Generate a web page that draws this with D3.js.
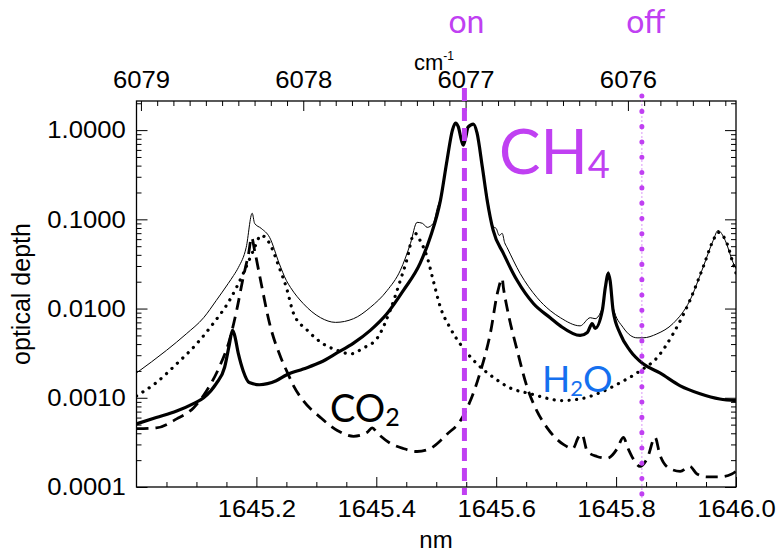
<!DOCTYPE html>
<html>
<head>
<meta charset="utf-8">
<script src="https://cdn.jsdelivr.net/npm/d3@7/dist/d3.min.js"></script>
<style>
  html, body { margin: 0; padding: 0; background: #fff; }
  svg { display: block; }
  .tick text { font-family: "Liberation Sans", Arial, Helvetica, sans-serif; font-size: 24px; fill: #000; }
  .axis path.domain { display: none; }
  .tick line { stroke: #000; stroke-width: 1; }
</style>
</head>
<body>
<svg id="chart" width="776" height="553"></svg>
<script>
// ---- Spectral data (optical depth vs. wavelength in nm) ----
const ch4Nm = [1645.000, 1645.033, 1645.067, 1645.095, 1645.112, 1645.133, 1645.147, 1645.155, 1645.160, 1645.163,
  1645.170, 1645.178, 1645.188, 1645.205, 1645.233, 1645.250, 1645.278, 1645.307, 1645.335, 1645.362,
  1645.390, 1645.418, 1645.445, 1645.473, 1645.490, 1645.507, 1645.518, 1645.527, 1645.532, 1645.537,
  1645.541, 1645.545, 1645.549, 1645.553, 1645.562, 1645.568, 1645.577, 1645.585, 1645.595, 1645.612, 1645.635, 1645.662,
  1645.690, 1645.707, 1645.740, 1645.752, 1645.760, 1645.765, 1645.777, 1645.782, 1645.787, 1645.790,
  1645.795, 1645.807, 1645.823, 1645.845, 1645.873, 1645.907, 1645.940, 1645.973, 1646.000];
const ch4Tau = [0.00051, 0.00060, 0.00071, 0.00086, 0.00100, 0.00144, 0.0022, 0.0040, 0.0057, 0.0052,
  0.0031, 0.0020, 0.00148, 0.00140, 0.00155, 0.0018, 0.0021, 0.0025, 0.0032, 0.0041,
  0.0057, 0.0088, 0.0159, 0.0321, 0.063, 0.163, 0.46, 1.0, 1.20, 1.08,
  0.82, 0.68, 0.82, 1.08, 1.17, 0.93, 0.38, 0.163, 0.075, 0.0415, 0.0206, 0.0114,
  0.0079, 0.0064, 0.0050, 0.0054, 0.0068, 0.0060, 0.0095, 0.0172, 0.0247, 0.0206,
  0.0095, 0.0052, 0.0034, 0.0024, 0.0019, 0.00136, 0.00111, 0.00097, 0.00093];

const h2oNm = [1645.000, 1645.033, 1645.067, 1645.100, 1645.128, 1645.155, 1645.178, 1645.195, 1645.208, 1645.222,
  1645.238, 1645.250, 1645.262, 1645.285, 1645.312, 1645.335, 1645.357, 1645.378, 1645.402, 1645.423,
  1645.440, 1645.452, 1645.460, 1645.465, 1645.473, 1645.485, 1645.495, 1645.507, 1645.523, 1645.545,
  1645.568, 1645.595, 1645.623, 1645.657, 1645.690, 1645.707, 1645.740, 1645.773, 1645.807, 1645.840,
  1645.868, 1645.895, 1645.923, 1645.945, 1645.962, 1645.970, 1645.985, 1645.995, 1646.000];
const h2oTau = [0.00105, 0.00148, 0.0024, 0.0040, 0.0068, 0.0123, 0.0247, 0.0448, 0.0661, 0.0537,
  0.0289, 0.0172, 0.0088, 0.0057, 0.0040, 0.0034, 0.0031, 0.0036, 0.0047, 0.0095,
  0.0206, 0.0374, 0.0628, 0.0696, 0.0581, 0.0374, 0.0206, 0.0103, 0.0061, 0.0036,
  0.0024, 0.0017, 0.00129, 0.00111, 0.00097, 0.00093, 0.00097, 0.00114, 0.00148, 0.0020,
  0.0028, 0.0052, 0.0123, 0.0289, 0.0581, 0.0714, 0.0537, 0.0321, 0.025];

const co2Nm = [1645.000, 1645.033, 1645.067, 1645.095, 1645.117, 1645.138, 1645.155, 1645.167, 1645.178, 1645.187,
  1645.192, 1645.197, 1645.208, 1645.222, 1645.240, 1645.252, 1645.262, 1645.278, 1645.307, 1645.335,
  1645.362, 1645.385, 1645.393, 1645.402, 1645.423, 1645.445, 1645.468, 1645.490, 1645.507, 1645.518,
  1645.540, 1645.557, 1645.573, 1645.590, 1645.603, 1645.610, 1645.612, 1645.618, 1645.635, 1645.652,
  1645.668, 1645.685, 1645.712, 1645.728, 1645.737, 1645.743, 1645.752, 1645.768, 1645.785, 1645.802,
  1645.812, 1645.820, 1645.828, 1645.840, 1645.852, 1645.865, 1645.873, 1645.890, 1645.907, 1645.923,
  1645.935, 1645.952, 1645.973, 1645.993, 1646.000];
const co2Tau = [0.00045, 0.00046, 0.00058, 0.00077, 0.0012, 0.0022, 0.0044, 0.0095, 0.0223, 0.0415,
  0.0628, 0.0448, 0.0191, 0.0068, 0.0029, 0.0019, 0.00136, 0.00093, 0.00060, 0.00043,
  0.00037, 0.00041, 0.00046, 0.00040, 0.00031, 0.00027, 0.00025, 0.00027, 0.00033, 0.00039,
  0.00055, 0.00093, 0.0019, 0.0052, 0.0159, 0.0217, 0.0172, 0.0103, 0.0034, 0.00129,
  0.00071, 0.00046, 0.00030, 0.00027, 0.00036, 0.00039, 0.00025, 0.00022, 0.00021, 0.00027,
  0.00036, 0.00027, 0.00021, 0.00017, 0.00021, 0.00036, 0.00023, 0.00016, 0.00015, 0.00017,
  0.00014, 0.00013, 0.00013, 0.00014, 0.00015];

// total optical depth of the three absorbers
const totalNm = [1645.000, 1645.050, 1645.083, 1645.112, 1645.133, 1645.153, 1645.162, 1645.170, 1645.183, 1645.193,
  1645.197, 1645.208, 1645.222, 1645.238, 1645.250, 1645.257, 1645.278, 1645.307, 1645.332, 1645.362,
  1645.390, 1645.418, 1645.440, 1645.457, 1645.468, 1645.477, 1645.485, 1645.495, 1645.502, 1645.507,
  1645.518, 1645.527, 1645.532, 1645.537, 1645.541, 1645.545, 1645.549, 1645.553, 1645.562, 1645.568, 1645.577, 1645.585,
  1645.595, 1645.600, 1645.605, 1645.610, 1645.614, 1645.618, 1645.640, 1645.668, 1645.690, 1645.707,
  1645.740, 1645.757, 1645.765, 1645.777, 1645.787, 1645.795, 1645.812, 1645.835, 1645.845, 1645.868,
  1645.895, 1645.923, 1645.945, 1645.962, 1645.970, 1645.982, 1645.995, 1646.000];
const totalTau = [0.0019, 0.0034, 0.0052, 0.0079, 0.0123, 0.0191, 0.0235, 0.0289, 0.0485, 0.117,
  0.0902, 0.0792, 0.0628, 0.0321, 0.0206, 0.0172, 0.0114, 0.0079, 0.0070, 0.0077,
  0.0103, 0.0159, 0.0267, 0.0537, 0.0925, 0.0902, 0.0813, 0.0902, 0.136, 0.173,
  0.47, 1.0, 1.20, 1.08, 0.82, 0.69, 0.82, 1.08, 1.17, 0.93, 0.39, 0.177,
  0.083, 0.079, 0.066, 0.0696, 0.055, 0.0485, 0.0247, 0.0133, 0.0095, 0.0079,
  0.0064, 0.0079, 0.0077, 0.0103, 0.026, 0.0103, 0.0061, 0.0047, 0.0047, 0.0052,
  0.0068, 0.0123, 0.0289, 0.0581, 0.075, 0.0581, 0.0329, 0.028];

// axis ticks
const nmTicks = [1645.2, 1645.4, 1645.6, 1645.8, 1646.0];
const wavenumberTicks = [6079, 6078, 6077, 6076];
const depthTicks = [0.0001, 0.001, 0.01, 0.1, 1];

// laser on/off wavelengths (nm)
const onNm = 1645.547;
const offNm = 1645.843;

// ---- Layout ----
const svg = d3.select("#chart");
const plot = { left: 136.5, right: 736, top: 101, bottom: 487 };
const purple = "#c040f2";
const blue = "#1570ef";

const x = d3.scaleLinear().domain([1645.0, 1646.0]).range([plot.left, plot.right]);
const y = d3.scaleLog().domain([1e-4, 2.12]).range([plot.bottom, plot.top]);
// wavenumber axis (cm^-1 = 1e7 / nm)
const xw = d3.scaleLinear().domain([1e7 / 1645.0, 1e7 / 1646.0]).range([plot.left, plot.right]);

svg.append("defs").append("clipPath").attr("id", "clip")
  .append("rect").attr("x", plot.left).attr("y", plot.top)
  .attr("width", plot.right - plot.left).attr("height", plot.bottom - plot.top);

// minor tick values
const nmMinor = d3.range(1645.05, 1646.0, 0.05).filter(v => Math.abs(v * 5 - Math.round(v * 5)) > 1e-6);
const wnMinor = d3.range(60754, 60791).map(v => v / 10).filter(v => v % 1 !== 0 && xw(v) > plot.left && xw(v) < plot.right);
const depthMinor = [];
depthTicks.slice(0, -1).forEach(d => { for (let k = 2; k <= 9; k++) depthMinor.push(d * k); });
for (let k = 2; k <= 9; k++) if (k <= 2.12) depthMinor.push(k);

function stretch(sel) { sel.selectAll(".tick text").attr("transform", "scale(1.07,1)"); }

// bottom axis (nm)
svg.append("g").attr("class", "axis").attr("transform", `translate(0,${plot.bottom})`)
  .call(d3.axisBottom(x).tickValues(nmMinor).tickSize(-5).tickFormat(""));
svg.append("g").attr("class", "axis").attr("transform", `translate(0,${plot.bottom})`)
  .call(d3.axisBottom(x).tickValues(nmTicks).tickSize(-10).tickPadding(13).tickFormat(d3.format(".1f")))
  .call(stretch);

// top axis (cm-1)
svg.append("g").attr("class", "axis").attr("transform", `translate(0,${plot.top})`)
  .call(d3.axisTop(xw).tickValues(wnMinor).tickSize(-5).tickFormat(""));
svg.append("g").attr("class", "axis").attr("transform", `translate(0,${plot.top})`)
  .call(d3.axisTop(xw).tickValues(wavenumberTicks).tickSize(-10).tickPadding(13).tickFormat(d3.format("d")))
  .call(stretch);

// left axis
svg.append("g").attr("class", "axis").attr("transform", `translate(${plot.left},0)`)
  .call(d3.axisLeft(y).tickValues(depthMinor).tickSize(-5).tickFormat(""));
svg.append("g").attr("class", "axis").attr("transform", `translate(${plot.left},0)`)
  .call(d3.axisLeft(y).tickValues(depthTicks).tickSize(-11).tickPadding(10).tickFormat(d3.format(".4f")))
  .call(stretch);

// right axis
svg.append("g").attr("class", "axis").attr("transform", `translate(${plot.right},0)`)
  .call(d3.axisRight(y).tickValues(depthMinor).tickSize(-5).tickFormat(""));
svg.append("g").attr("class", "axis").attr("transform", `translate(${plot.right},0)`)
  .call(d3.axisRight(y).tickValues(depthTicks).tickSize(-11).tickFormat(""));

// frame
svg.append("rect").attr("x", plot.left).attr("y", plot.top)
  .attr("width", plot.right - plot.left).attr("height", plot.bottom - plot.top)
  .attr("fill", "none").attr("stroke", "#000").attr("stroke-width", 1.3);

// ---- Curves ----
const line = d3.line().x(d => x(d[0])).y(d => y(d[1])).curve(d3.curveMonotoneX);
const zip = (a, b) => a.map((v, i) => [v, b[i]]);
const curves = svg.append("g").attr("clip-path", "url(#clip)").attr("fill", "none");

curves.append("path").datum(zip(totalNm, totalTau)).attr("d", line)
  .attr("stroke", "#000").attr("stroke-width", 1);
curves.append("path").datum(zip(h2oNm, h2oTau)).attr("d", line)
  .attr("stroke", "#000").attr("stroke-width", 3.2).attr("stroke-linecap", "round")
  .attr("stroke-dasharray", "0.1 7.4");
curves.append("path").datum(zip(co2Nm, co2Tau)).attr("d", line)
  .attr("stroke", "#000").attr("stroke-width", 2.8).attr("stroke-dasharray", "12 7");
curves.append("path").datum(zip(ch4Nm, ch4Tau)).attr("d", line)
  .attr("stroke", "#000").attr("stroke-width", 3.2).attr("stroke-linejoin", "round");

// ---- on / off markers ----
svg.append("line").attr("x1", x(onNm)).attr("x2", x(onNm))
  .attr("y1", plot.top - 13).attr("y2", plot.bottom + 8)
  .attr("stroke", purple).attr("stroke-width", 5).attr("stroke-dasharray", "13 7");

svg.append("line").attr("x1", x(offNm)).attr("x2", x(offNm))
  .attr("y1", plot.top - 5).attr("y2", plot.bottom + 16)
  .attr("stroke", purple).attr("stroke-opacity", 0.55).attr("stroke-width", 1).attr("stroke-dasharray", "2 2");
svg.append("line").attr("x1", x(offNm)).attr("x2", x(offNm))
  .attr("y1", plot.top - 5).attr("y2", plot.bottom + 16)
  .attr("stroke", purple).attr("stroke-width", 5).attr("stroke-linecap", "round")
  .attr("stroke-dasharray", "0.1 15.2");

const labelFont = "Lato, 'Open Sans', sans-serif";
svg.append("text").attr("x", x(onNm) + 2).attr("y", 33).attr("text-anchor", "middle")
  .attr("font-family", labelFont).attr("font-size", 32).attr("fill", purple).text("on");
svg.append("text").attr("x", x(offNm) + 4).attr("y", 33).attr("text-anchor", "middle")
  .attr("font-family", labelFont).attr("font-size", 32).attr("fill", purple).text("off");

// axis titles
const axisFont = "'Liberation Sans', Arial, Helvetica, sans-serif";
const cm = svg.append("text").attr("x", 414).attr("y", 70)
  .attr("font-family", axisFont).attr("font-size", 22).attr("fill", "#000");
cm.append("tspan").text("cm");
cm.append("tspan").attr("font-size", 12).attr("dy", -10).text("-1");

svg.append("text").attr("x", 436).attr("y", 548).attr("text-anchor", "middle")
  .attr("font-family", axisFont).attr("font-size", 24).attr("fill", "#000").text("nm");

svg.append("text").attr("transform", "translate(30,294) rotate(-90)").attr("text-anchor", "middle")
  .attr("font-family", axisFont).attr("font-size", 25).attr("fill", "#000").text("optical depth");

// species labels: text, subscript, optional trailing text
function species(xp, yp, main, sub, tail, size, subSize, color) {
  const t = svg.append("text").attr("x", xp).attr("y", yp)
    .attr("font-family", labelFont).attr("font-size", size).attr("fill", color);
  t.append("tspan").text(main);
  t.append("tspan").attr("font-size", subSize).attr("dy", 4).text(sub);
  if (tail) t.append("tspan").attr("dy", -4).text(tail);
}
species(499, 174, "CH", "4", "", 62, 38, purple);
species(542, 392, "H", "2", "O", 37, 22, blue);
species(330, 422, "CO", "2", "", 38, 25, "#000");
</script>
</body>
</html>
